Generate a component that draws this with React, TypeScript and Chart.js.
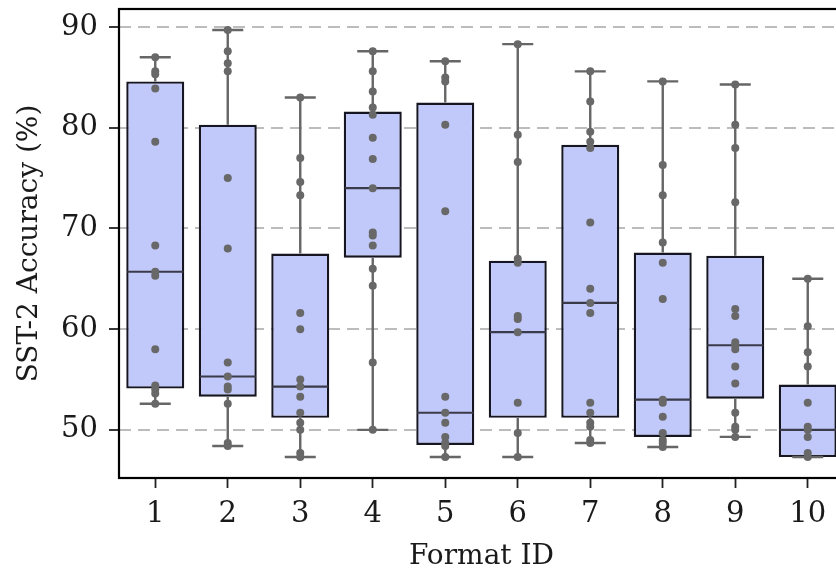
import React, { useEffect, useRef } from "react";
import { Chart, registerables } from "chart.js";

Chart.register(...registerables);

// ---- data ----
const categories = [1, 2, 3, 4, 5, 6, 7, 8, 9, 10];
const xTicks = [1, 2, 3, 4, 5, 6, 7, 8, 9, 10];
const yTicks = [50, 60, 70, 80, 90];

const whiskerLow = [52.6, 48.4, 47.3, 50.0, 47.3, 47.3, 48.7, 48.3, 49.3, 47.3];
const q1 = [54.1, 53.3, 51.2, 67.1, 48.5, 51.2, 51.2, 49.3, 53.1, 47.3];
const median = [65.7, 55.3, 54.3, 74.0, 51.7, 59.7, 62.6, 53.0, 58.4, 50.0];
const q3 = [84.6, 80.3, 67.5, 81.6, 82.5, 66.8, 78.3, 67.6, 67.3, 54.5];
const whiskerHigh = [87.0, 89.7, 83.0, 87.6, 86.6, 88.3, 85.6, 84.6, 84.3, 65.0];

const points1 = [87.0, 85.6, 85.3, 83.9, 78.6, 68.3, 65.7, 65.3, 58.0, 54.4, 54.0, 53.6, 52.6];
const points2 = [89.7, 87.6, 86.4, 85.6, 75.0, 68.0, 56.7, 55.3, 54.3, 54.0, 52.6, 48.7, 48.4];
const points3 = [83.0, 77.0, 74.6, 73.3, 61.6, 60.0, 55.0, 54.3, 53.3, 51.7, 50.7, 50.0, 47.7, 47.3];
const points4 = [87.6, 85.6, 83.6, 82.0, 81.3, 79.0, 76.9, 74.0, 69.6, 69.3, 68.3, 66.0, 64.3, 56.7, 50.0];
const points5 = [86.6, 85.0, 84.6, 80.3, 71.7, 53.3, 51.7, 50.7, 49.3, 48.7, 48.4, 47.3];
const points6 = [88.3, 79.3, 76.6, 67.0, 66.6, 61.3, 61.0, 59.7, 52.7, 49.7, 47.3];
const points7 = [85.6, 82.6, 79.6, 78.6, 78.0, 70.6, 64.0, 62.6, 61.6, 52.7, 51.7, 50.7, 50.3, 49.0, 48.7];
const points8 = [84.6, 76.3, 73.3, 68.6, 66.6, 63.0, 53.0, 52.7, 51.3, 49.7, 49.0, 48.7, 48.3];
const points9 = [84.3, 80.3, 78.0, 72.6, 62.0, 61.3, 58.7, 58.4, 58.0, 56.3, 54.6, 51.7, 50.3, 50.0, 49.3];
const points10 = [65.0, 60.3, 57.7, 56.3, 52.7, 50.3, 50.0, 49.3, 47.7, 47.3];

const allPoints = [points1, points2, points3, points4, points5, points6, points7, points8, points9, points10];

const xLabel = "Format ID";
const yLabel = "SST-2 Accuracy (%)";

// ---- styles ----
const FONT = "DejaVu Serif";
const BOX_FILL = "#c1c9fa";
const BOX_EDGE = "#161622";
const WHISKER = "#666666";
const MEDIAN = "#3a3a48";
const POINT = "#686868";
const GRID = "#bcbcbc";
const TEXT = "#1a1a1a";

const CANVAS_W = 860;
const CANVAS_H = 574;

const boxExtras = {
  id: "boxExtras",
  afterDatasetDraw(chart: any, args: any) {
    if (args.index !== 0) return;
    const { ctx, chartArea } = chart;
    const xs = chart.scales.x;
    const ys = chart.scales.y;
    const meta = chart.getDatasetMeta(0);
    ctx.save();
    ctx.beginPath();
    ctx.rect(chartArea.left, chartArea.top, chartArea.right - chartArea.left, chartArea.bottom - chartArea.top);
    ctx.clip();
    categories.forEach((c, i) => {
      const px = xs.getPixelForValue(c);
      const bar = meta.data[i];
      const boxHalf = bar ? bar.width / 2 : 29;
      const capHalf = boxHalf / 2 + 1;
      const yh = ys.getPixelForValue(whiskerHigh[i]);
      const yl = ys.getPixelForValue(whiskerLow[i]);
      ctx.strokeStyle = WHISKER;
      ctx.lineWidth = 2.4;
      ctx.setLineDash([]);
      ctx.beginPath();
      ctx.moveTo(px, ys.getPixelForValue(q3[i]));
      ctx.lineTo(px, yh);
      ctx.moveTo(px, ys.getPixelForValue(q1[i]));
      ctx.lineTo(px, yl);
      ctx.moveTo(px - capHalf, yh);
      ctx.lineTo(px + capHalf, yh);
      ctx.moveTo(px - capHalf, yl);
      ctx.lineTo(px + capHalf, yl);
      ctx.stroke();
      const ym = ys.getPixelForValue(median[i]);
      ctx.strokeStyle = MEDIAN;
      ctx.lineWidth = 2.2;
      ctx.beginPath();
      ctx.moveTo(px - boxHalf + 1, ym);
      ctx.lineTo(px + boxHalf - 1, ym);
      ctx.stroke();
    });
    ctx.restore();
  },
  afterDraw(chart: any) {
    const { ctx, chartArea } = chart;
    ctx.save();
    ctx.strokeStyle = "#000";
    ctx.lineWidth = 2.2;
    ctx.setLineDash([]);
    ctx.strokeRect(chartArea.left, chartArea.top, chartArea.right - chartArea.left, chartArea.bottom - chartArea.top);
    ctx.restore();
  },
};

export default function App() {
  const ref = useRef<HTMLCanvasElement | null>(null);

  useEffect(() => {
    if (!ref.current) return;
    const boxData = categories.map((c, i) => ({ x: c, y: [q1[i], q3[i]] }));
    const scatterData: { x: number; y: number }[] = [];
    allPoints.forEach((arr, i) => arr.forEach((v) => scatterData.push({ x: categories[i], y: v })));

    const chart = new Chart(ref.current, {
      type: "bar",
      data: {
        datasets: [
          {
            type: "bar",
            data: boxData as any,
            backgroundColor: BOX_FILL,
            borderColor: BOX_EDGE,
            borderWidth: 2.4,
            borderSkipped: false,
            categoryPercentage: 1,
            barPercentage: 0.8,
            order: 2,
          } as any,
          {
            type: "scatter",
            data: scatterData,
            backgroundColor: POINT,
            borderColor: POINT,
            borderWidth: 0,
            pointRadius: 4,
            order: 1,
          } as any,
        ],
      },
      options: {
        responsive: false,
        animation: false,
        devicePixelRatio: 1,
        layout: { padding: { top: 9, right: CANVAS_W - 844, left: 0, bottom: 0 } },
        plugins: { legend: { display: false }, tooltip: { enabled: false } },
        scales: {
          x: {
            type: "linear",
            min: 0.5,
            max: 10.5,
            offset: false,
            afterBuildTicks: (s: any) => {
              s.ticks = xTicks.map((v) => ({ value: v }));
            },
            afterFit: (s: any) => {
              s.height = CANVAS_H - 478;
              s.paddingLeft = 0;
              s.paddingRight = 0;
            },
            ticks: {
              font: { family: FONT, size: 29 },
              color: TEXT,
              padding: 9,
              maxRotation: 0,
              autoSkip: false,
              callback: (v: any) => String(v),
            },
            grid: {
              offset: false,
              drawOnChartArea: false,
              drawTicks: true,
              tickLength: 10,
              tickColor: "#222",
              tickWidth: 1.8,
            },
            border: { display: false },
            title: {
              display: true,
              text: xLabel,
              font: { family: FONT, size: 28 },
              color: TEXT,
              padding: { bottom: 0 },
            },
          },
          y: {
            type: "linear",
            min: 45.22,
            max: 91.79,
            afterBuildTicks: (s: any) => {
              s.ticks = yTicks.map((v) => ({ value: v }));
            },
            afterFit: (s: any) => {
              s.width = 119;
              s.paddingTop = 0;
              s.paddingBottom = 0;
            },
            ticks: {
              font: { family: FONT, size: 29 },
              color: TEXT,
              padding: 11,
              callback: (v: any) => String(v),
            },
            grid: {
              color: GRID,
              lineWidth: 2,
              drawTicks: true,
              tickLength: 10,
              tickColor: "#222",
              tickWidth: 1.8,
              tickBorderDash: [],
            },
            border: { display: false, dash: [12, 7] },
            title: {
              display: true,
              text: yLabel,
              font: { family: FONT, size: 28 },
              color: TEXT,
              padding: { top: 13 },
            },
          },
        },
      } as any,
      plugins: [boxExtras],
    });
    return () => chart.destroy();
  }, []);

  return (
    <div style={{ position: "fixed", left: 0, top: 0, width: 836, height: 574, overflow: "hidden", background: "#fff" }}>
      <canvas ref={ref} width={CANVAS_W} height={CANVAS_H} style={{ display: "block", width: CANVAS_W, height: CANVAS_H }} />
    </div>
  );
}
